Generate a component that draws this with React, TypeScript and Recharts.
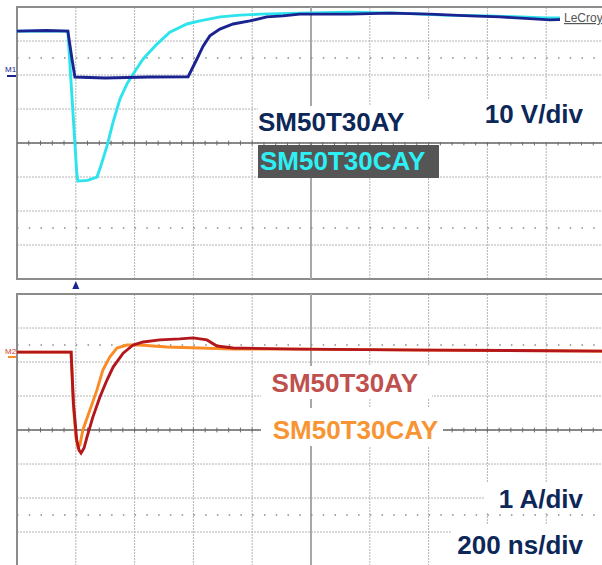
import React from 'react';
import {
  LineChart,
  Line,
  XAxis,
  YAxis,
  CartesianGrid,
  ReferenceLine,
  ReferenceArea,
  ReferenceDot,
} from 'recharts';

// ---- axes (200 ns/div, 10 V/div, 1 A/div) ----
const TIME_TICKS_NS = [0, 200, 400, 600, 800, 1000, 1200, 1400, 1600, 1800, 2000];
const VOLT_TICKS = [-40, -30, -20, -10, 0, 10, 20, 30, 40];
const AMP_TICKS = [-4, -3, -2, -1, 0, 1, 2, 3, 4];
const MINOR_TICKS_NS = Array.from({ length: 49 }, (_, i) => (i + 1) * 40);
const TRIGGER_NS = 200;

// ---- voltage traces (V) ----
const AY_V_TIME = [0, 100, 173, 187, 197, 300, 450, 582, 612, 633, 656, 690, 735, 792, 850, 905, 962, 1133, 1269, 1405, 1541, 1643, 1813, 1925, 2000];
const AY_V_VALUE = [32.9, 33.1, 32.9, 24.7, 19.4, 19.1, 19.4, 19.5, 24.7, 28.5, 31.5, 33.5, 35.0, 35.9, 37.1, 37.4, 37.9, 37.9, 38.2, 37.9, 37.4, 37.1, 36.2, 36.5, 36.5];

const CAY_V_TIME = [0, 173, 203, 207, 240, 272, 282, 306, 327, 350, 374, 395, 429, 476, 520, 578, 622, 691, 758, 826, 962, 1133, 1300, 1450, 1600, 1800, 2000];
const CAY_V_VALUE = [32.9, 32.9, -8.5, -11.2, -11.0, -10.0, -7.6, -0.9, 6.2, 12.9, 17.4, 20.3, 24.7, 29.1, 32.6, 35.0, 35.9, 37.1, 37.6, 37.9, 38.2, 38.5, 38.2, 37.6, 37.4, 36.8, 36.8];

// ---- current traces (A) ----
const AY_I_TIME = [0, 184, 192, 203, 211, 218, 228, 238, 258, 282, 306, 327, 361, 395, 429, 486, 554, 599, 646, 680, 735, 962, 1400, 2000];
const AY_I_VALUE = [2.29, 2.29, 0.79, -0.29, -0.59, -0.68, -0.53, -0.21, 0.38, 0.97, 1.47, 1.85, 2.26, 2.5, 2.59, 2.65, 2.68, 2.71, 2.65, 2.47, 2.41, 2.38, 2.35, 2.32];

const CAY_I_TIME = [0, 184, 192, 200, 207, 214, 224, 248, 272, 292, 316, 340, 374, 418, 510, 622, 735, 962, 1400, 2000];
const CAY_I_VALUE = [2.29, 2.29, 0.7, -0.2, -0.5, -0.44, 0.0, 0.59, 1.18, 1.76, 2.15, 2.41, 2.5, 2.5, 2.44, 2.41, 2.38, 2.38, 2.35, 2.32];

const zip = (t: number[], v: number[]) => t.map((x, i) => ({ t: x, v: v[i] }));

const AY_V = zip(AY_V_TIME, AY_V_VALUE);
const CAY_V = zip(CAY_V_TIME, CAY_V_VALUE);
const AY_I = zip(AY_I_TIME, AY_I_VALUE);
const CAY_I = zip(CAY_I_TIME, CAY_I_VALUE);

const GRID = '#b4b4b4';
const BORDER = '#8c8c8c';
const AXIS = '#6a6a6a';
const FONT = '"Liberation Sans", Arial, sans-serif';
const NAVY_TEXT = '#0c2758';

type PanelProps = {
  top: number;
  ticks: number[];
  dotRow: number;
  tickHalf: number;
  series: { data: { t: number; v: number }[]; color: string }[];
  trigger?: boolean;
};

const Panel = ({ top, ticks, dotRow, tickHalf, series, trigger }: PanelProps) => {
  const lo = ticks[0];
  const hi = ticks[ticks.length - 1];
  return (
    <div style={{ position: 'absolute', left: 0, top }}>
      <LineChart width={620} height={290} margin={{ top: 7, right: 15, bottom: 11, left: 17 }}>
        <XAxis type="number" dataKey="t" domain={[0, 2000]} ticks={TIME_TICKS_NS} hide allowDataOverflow />
        <YAxis type="number" domain={[lo, hi]} ticks={ticks} hide allowDataOverflow />
        <CartesianGrid stroke={GRID} strokeDasharray="2 1" />
        <ReferenceLine x={1000} stroke="#a8a8a8" strokeWidth={2} />
        <ReferenceLine y={dotRow} stroke="#8a8a8a" strokeWidth={1.5} strokeDasharray="1.5 10.26" />
        <ReferenceLine y={-dotRow} stroke="#8a8a8a" strokeWidth={1.5} strokeDasharray="1.5 10.26" />
        <ReferenceLine y={0} stroke={AXIS} strokeWidth={1.5} />
        {MINOR_TICKS_NS.map((m) => (
          <ReferenceLine
            key={m}
            segment={[
              { x: m, y: -tickHalf },
              { x: m, y: tickHalf },
            ]}
            stroke={AXIS}
            strokeWidth={1}
          />
        ))}
        <ReferenceArea x1={0} x2={2000} y1={lo} y2={hi} fill="none" stroke={BORDER} strokeWidth={2} />
        {series.map((s, i) => (
          <Line
            key={i}
            data={s.data}
            dataKey="v"
            type="linear"
            dot={false}
            activeDot={false}
            stroke={s.color}
            strokeWidth={2.9}
            isAnimationActive={false}
          />
        ))}
        {trigger && (
          <ReferenceDot
            x={TRIGGER_NS}
            y={lo}
            ifOverflow="visible"
            shape={(p: any) => (
              <polygon
                points={`${p.cx},${p.cy + 2} ${p.cx - 3.5},${p.cy + 10} ${p.cx + 3.5},${p.cy + 10}`}
                fill="#1b2390"
              />
            )}
          />
        )}
      </LineChart>
    </div>
  );
};

export default function App() {
  return (
    <div
      style={{
        position: 'absolute',
        left: 0,
        top: 0,
        width: 602,
        height: 565,
        overflow: 'hidden',
        background: '#ffffff',
      }}
    >
      <Panel
        top={0}
        ticks={VOLT_TICKS}
        dotRow={25}
        tickHalf={0.7}
        trigger
        series={[
          { data: CAY_V, color: '#2de3ec' },
          { data: AY_V, color: '#1b2390' },
        ]}
      />
      <Panel
        top={287}
        ticks={AMP_TICKS}
        dotRow={2.5}
        tickHalf={0.07}
        series={[
          { data: CAY_I, color: '#fb8b24' },
          { data: AY_I, color: '#b4171b' },
        ]}
      />
      <svg
        width={602}
        height={565}
        style={{ position: 'absolute', left: 0, top: 0, pointerEvents: 'none' }}
        fontFamily={FONT}
      >
        {/* top panel labels */}
        <rect x={258} y={106} width={155} height={36} fill="#ffffff" />
        <rect x={413} y={99} width={200} height={43} fill="#ffffff" />
        <text x={258} y={131} fontSize={26} fontWeight="bold" fill={NAVY_TEXT}>SM50T30AY</text>
        <text x={583} y={123} fontSize={26} fontWeight="bold" fill={NAVY_TEXT} textAnchor="end">10 V/div</text>
        <rect x={258} y={145} width={181} height={33} fill="#555555" />
        <text x={260} y={170} fontSize={26} fontWeight="bold" fill="#2df0f5">SM50T30CAY</text>
        {/* LeCroy badge */}
        <rect x={560} y={8} width={50} height={18} fill="#ffffff" />
        <text x={564} y={22} fontSize={12} fill="#555555" textDecoration="underline">LeCroy</text>
        {/* channel markers */}
        <text x={5} y={72} fontSize={8} fill="#1b2390">M1</text>
        <line x1={7} y1={76} x2={16} y2={76} stroke="#1b2390" strokeWidth={2} />
        <text x={5} y={354} fontSize={8} fill="#d2462a">M2</text>
        <line x1={8} y1={357} x2={16} y2={357} stroke="#fb8b24" strokeWidth={2} />
        {/* bottom panel labels */}
        <rect x={261} y={366} width={171} height={33} fill="#ffffff" />
        <text x={418} y={392} fontSize={26} fontWeight="bold" fill="#c0504d" textAnchor="end">SM50T30AY</text>
        <rect x={261} y={408} width={182} height={38} fill="#ffffff" />
        <text x={438} y={439} fontSize={26} fontWeight="bold" fill="#f79433" textAnchor="end">SM50T30CAY</text>
        <rect x={485} y={482} width={130} height={30} fill="#ffffff" />
        <text x={583} y={508} fontSize={26} fontWeight="bold" fill={NAVY_TEXT} textAnchor="end">1 A/div</text>
        <rect x={452} y={524} width={160} height={45} fill="#ffffff" />
        <text x={583} y={554} fontSize={26} fontWeight="bold" fill={NAVY_TEXT} textAnchor="end">200 ns/div</text>
      </svg>
    </div>
  );
}
